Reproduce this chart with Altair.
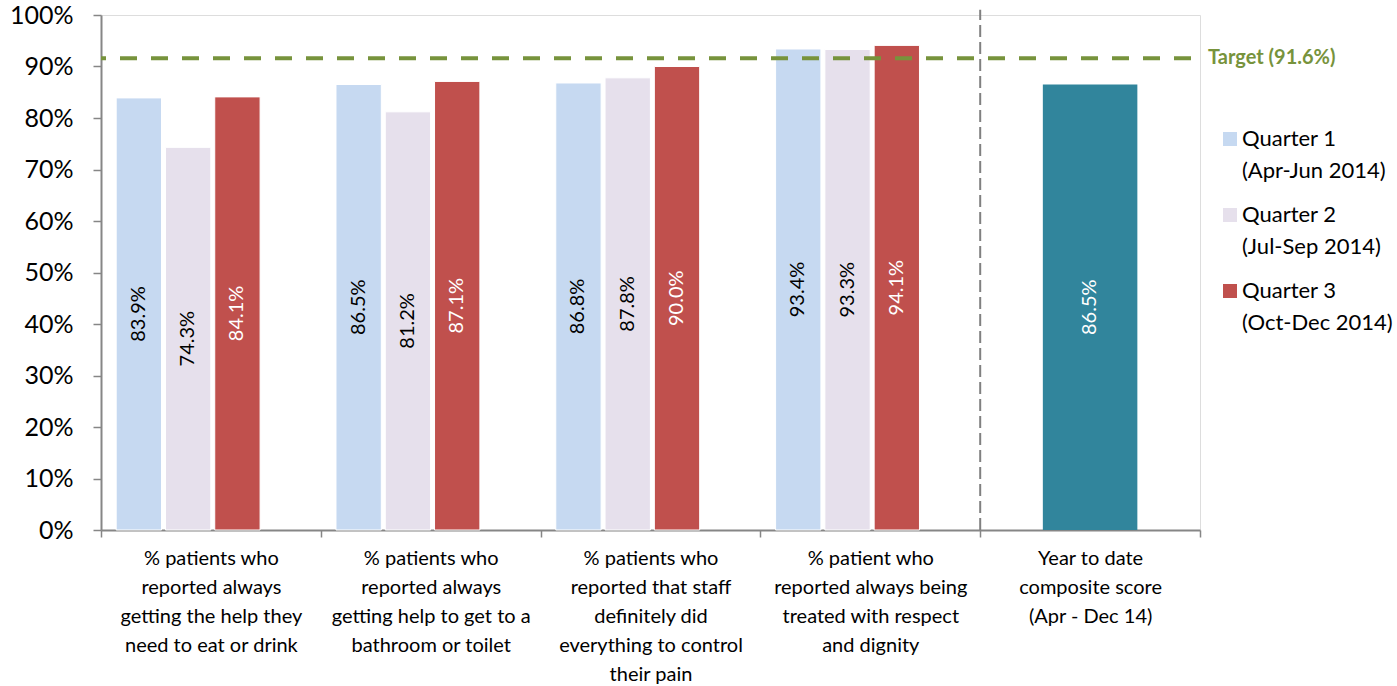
import altair as alt
import pandas as pd

# Survey measures (line breaks marked with "|")
measures = [
    "% patients who|reported always|getting the help they|need to eat or drink",
    "% patients who|reported always|getting help to get to a|bathroom or toilet",
    "% patients who|reported that staff|definitely did|everything to control|their pain",
    "% patient who|reported always being|treated with respect|and dignity",
]
composite_name = "Year to date|composite score|(Apr - Dec 14)"
categories = measures + [composite_name]

quarters = [
    "Quarter 1|(Apr-Jun 2014)",
    "Quarter 2|(Jul-Sep 2014)",
    "Quarter 3|(Oct-Dec 2014)",
]
quarter_colors = ["#C6D9F1", "#E6E0EC", "#C0504D"]

# Percentages per quarter, one value per measure
q1_values = [83.9, 86.5, 86.8, 93.4]
q2_values = [74.3, 81.2, 87.8, 93.3]
q3_values = [84.1, 87.1, 90.0, 94.1]
composite_value = 86.5
target_value = 91.6

FONT = "Lato"
AXIS_GREY = "#868686"
TARGET_GREEN = "#77933C"
W, H = 1099, 515

rows = []
for q, vals in zip(quarters, [q1_values, q2_values, q3_values]):
    for m, v in zip(measures, vals):
        rows.append({"measure": m, "quarter": q, "value": v / 100})
df = pd.DataFrame(rows)
comp_df = pd.DataFrame({"measure": [composite_name], "value": [composite_value / 100]})
target_df = pd.DataFrame({"target": [target_value / 100]})

x_scale = alt.Scale(domain=categories, paddingInner=0, paddingOuter=0)
y_scale = alt.Scale(domain=[0, 1], nice=False)

x_enc = alt.X(
    "measure:N",
    sort=categories,
    scale=x_scale,
    axis=alt.Axis(
        title=None,
        labelExpr="split(datum.label, '|')",
        labelAngle=0,
        labelFont=FONT,
        labelFontSize=20,
        labelLineHeight=29,
        labelColor="black",
        labelPadding=11,
        labelLimit=0,
        tickBand="extent",
        tickSize=7,
        tickColor=AXIS_GREY,
        tickWidth=1.5,
        domainColor=AXIS_GREY,
        domainWidth=2,
    ),
)
x_plain = alt.X("measure:N", sort=categories, scale=x_scale)
# Quarter bars sit left of the group centre, as in a four-slot cluster
x_off = alt.XOffset(
    "quarter:N",
    sort=quarters,
    scale=alt.Scale(domain=quarters, paddingInner=0.08, paddingOuter=0.77, align=0.2),
)

y_enc = alt.Y(
    "value:Q",
    scale=y_scale,
    axis=alt.Axis(
        title=None,
        format=".0%",
        values=[i / 10 for i in range(11)],
        grid=False,
        labelFont=FONT,
        labelFontSize=25,
        labelColor="black",
        labelPadding=20,
        tickSize=8,
        tickColor=AXIS_GREY,
        tickWidth=1.5,
        domainColor=AXIS_GREY,
        domainWidth=2,
    ),
)

bars = alt.Chart(df).mark_bar(stroke="white", strokeWidth=1).encode(
    x=x_enc,
    xOffset=x_off,
    y=y_enc,
    color=alt.Color(
        "quarter:N",
        sort=quarters,
        scale=alt.Scale(domain=quarters, range=quarter_colors),
        legend=alt.Legend(
            title=None,
            orient="none",
            legendX=1118,
            legendY=113,
            padding=0,
            symbolType="square",
            symbolSize=196,
            symbolStrokeWidth=0,
            labelExpr="split(datum.label, '|')",
            labelFont=FONT,
            labelFontSize=22,
            labelBaseline="middle",
            labelColor="black",
            labelOffset=1,
            labelLimit=0,
            rowPadding=22,
        ),
    ),
)

bar_labels = (
    alt.Chart(df)
    .transform_calculate(mid="datum.value / 2")
    .mark_text(angle=270, font=FONT, fontSize=20, align="center", baseline="middle")
    .encode(
        x=x_plain,
        xOffset=x_off,
        y=alt.Y("mid:Q", scale=y_scale),
        text=alt.Text("value:Q", format=".1%"),
        color=alt.condition(
            "indexof(datum.quarter, 'Quarter 3') >= 0",
            alt.value("white"),
            alt.value("black"),
        ),
    )
)

comp_bar = alt.Chart(comp_df).mark_bar(
    color="#31859C", width=alt.RelativeBandSize(0.43)
).encode(x=x_plain, y=alt.Y("value:Q", scale=y_scale))

comp_label = (
    alt.Chart(comp_df)
    .transform_calculate(mid="datum.value / 2")
    .mark_text(angle=270, font=FONT, fontSize=20, color="white", baseline="middle")
    .encode(
        x=x_plain,
        y=alt.Y("mid:Q", scale=y_scale),
        text=alt.Text("value:Q", format=".1%"),
    )
)

divider = alt.Chart(comp_df).mark_rule(
    color="#808080", strokeWidth=2, strokeDash=[12, 5]
).encode(
    x=alt.X("measure:N", sort=categories, scale=x_scale, bandPosition=0),
    y=alt.datum(0),
    y2=alt.datum(1.01),
)

target_line = alt.Chart(target_df).mark_rule(
    color=TARGET_GREEN, strokeWidth=4, strokeDash=[17, 14], strokeDashOffset=22
).encode(y=alt.Y("target:Q", scale=y_scale))

target_text = (
    alt.Chart(target_df)
    .transform_calculate(label="'Target (' + format(datum.target, '.1%') + ')'")
    .mark_text(
        align="left",
        baseline="middle",
        dx=8,
        font=FONT,
        fontSize=20,
        fontWeight="bold",
        color=TARGET_GREEN,
    )
    .encode(x=alt.value(W), y=alt.Y("target:Q", scale=y_scale), text="label:N")
)

chart = (
    alt.layer(bars, comp_bar, bar_labels, comp_label, divider, target_line, target_text)
    .properties(
        width=W,
        height=H,
        autosize=alt.AutoSizeParams(type="none"),
        padding={"left": 101, "top": 15, "right": 197, "bottom": 156},
    )
    .configure_view(stroke=None)
    .configure(background="white", style={"guide-label": {"lineHeight": 32}})
)

chart.save("out.html", embed_options={"renderer": "svg", "actions": False})
